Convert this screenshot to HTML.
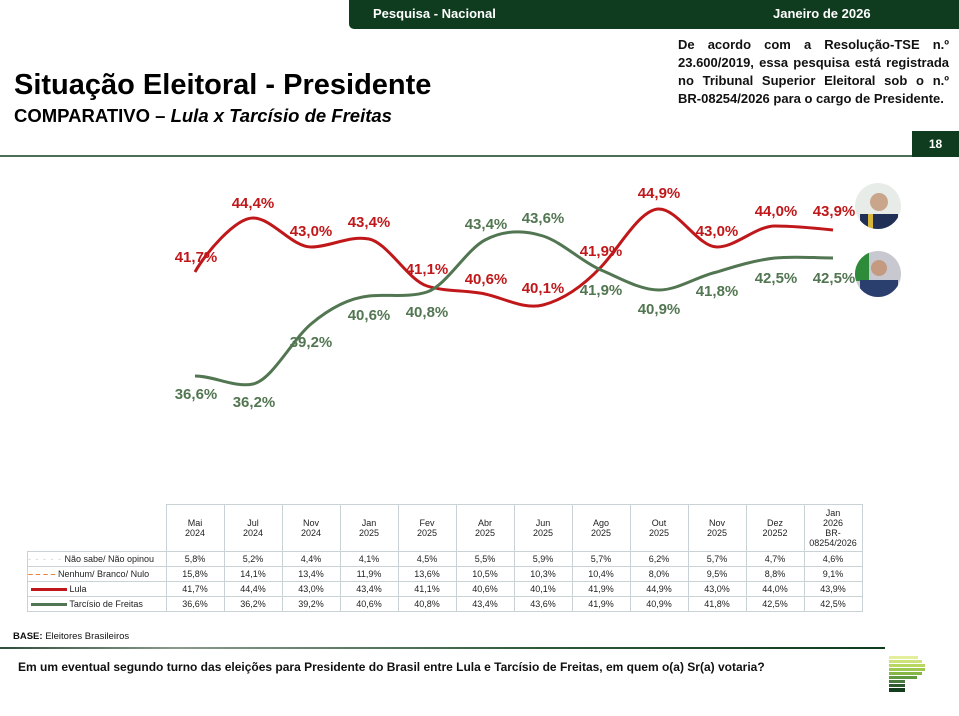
<!DOCTYPE html>
<html><head><meta charset="utf-8"><style>
body{margin:0;width:959px;height:716px;background:#fff;position:relative;overflow:hidden;font-family:"Liberation Sans",Arial,sans-serif;}
.abs{position:absolute}
table{border-collapse:collapse;position:absolute;left:27px;top:504px;font-size:9px;color:#222}
td{border:1px solid #c9d3d6;text-align:center;padding:0;height:14px;width:57px}
.j{text-align:justify;text-align-last:justify;white-space:nowrap}
</style></head><body>
<div class="abs" style="left:349px;top:0;width:610px;height:29px;background:#0f3b1e;border-bottom-left-radius:5px"></div>
<div class="abs" style="left:373px;top:6px;color:#fff;font-weight:bold;font-size:13px">Pesquisa - Nacional</div>
<div class="abs" style="left:773px;top:6px;color:#fff;font-weight:bold;font-size:13px">Janeiro de 2026</div>
<div class="abs" style="left:678px;top:36px;width:271px;font-weight:bold;font-size:13px;line-height:18px;color:#111">
<div class="j">De acordo com a Resolução-TSE n.º</div>
<div class="j">23.600/2019, essa pesquisa está registrada</div>
<div class="j">no Tribunal Superior Eleitoral sob o n.º</div>
<div>BR-08254/2026 para o cargo de Presidente.</div>
</div>
<div class="abs" style="left:14px;top:69px;font-weight:bold;font-size:29px;color:#000">Situação Eleitoral - Presidente</div>
<div class="abs" style="left:14px;top:105px;font-weight:bold;font-size:18.5px;color:#000">COMPARATIVO – <i>Lula x Tarcísio de Freitas</i></div>
<div class="abs" style="left:0;top:155px;width:959px;height:2px;background:#4c6e58"></div>
<div class="abs" style="left:912px;top:131px;width:47px;height:26px;background:#0f3b1e;color:#fff;font-weight:bold;font-size:12px;text-align:center;line-height:27px">18</div>

<svg class="abs" style="left:0;top:0" width="959" height="500">
<defs>
<clipPath id="c1"><circle cx="878" cy="206" r="23"/></clipPath>
<clipPath id="c2"><circle cx="878" cy="274" r="23"/></clipPath>
</defs>
<path d="M195,272 C205,254 235,218 253,218 C272,218 292,247 311,247 C330,247 350,235 369,239 C388,243 408,280 427,286 C446,292 466,290 485,294 C504,298 524,310 543,305 C562,300 582,287 601,267 C620,247 640,209 659,209 C678,209 698,247 717,247 C736,247 756,226 775,226 C794,226 814,228 833,230" fill="none" stroke="#c0181a" stroke-width="3"/>
<path d="M195,376 C214,376 235,388 253,384 C272,380 292,340 311,324 C330,308 350,298 369,296 C388,294 408,298 427,292 C446,286 466,250 485,240 C504,230 524,230 543,236 C562,242 582,262 601,270 C620,278 640,290 659,290 C678,290 698,276 717,272 C736,266 756,260 775,258 C794,256 814,258 833,258" fill="none" stroke="#527651" stroke-width="3"/>
<g font-weight="bold" font-size="15" fill="#c0181a" text-anchor="middle">
<text x="196" y="262">41,7%</text><text x="253" y="208">44,4%</text><text x="311" y="236">43,0%</text><text x="369" y="227">43,4%</text><text x="427" y="274">41,1%</text><text x="486" y="284">40,6%</text><text x="543" y="293">40,1%</text><text x="601" y="256">41,9%</text><text x="659" y="198">44,9%</text><text x="717" y="236">43,0%</text><text x="776" y="216">44,0%</text><text x="834" y="216">43,9%</text>
</g>
<g font-weight="bold" font-size="15" fill="#527651" text-anchor="middle">
<text x="196" y="399">36,6%</text><text x="254" y="407">36,2%</text><text x="311" y="347">39,2%</text><text x="369" y="320">40,6%</text><text x="427" y="317">40,8%</text><text x="486" y="229">43,4%</text><text x="543" y="223">43,6%</text><text x="601" y="295">41,9%</text><text x="659" y="314">40,9%</text><text x="717" y="296">41,8%</text><text x="776" y="283">42,5%</text><text x="834" y="283">42,5%</text>
</g>
<g clip-path="url(#c1)"><rect x="855" y="183" width="46" height="46" fill="#e8ece8"/><circle cx="879" cy="202" r="9" fill="#c9a58c"/><rect x="860" y="214" width="38" height="16" fill="#1f2f55"/><rect x="868" y="214" width="5" height="16" fill="#d8b63a"/></g>
<g clip-path="url(#c2)"><rect x="855" y="251" width="46" height="46" fill="#c8c8d0"/><rect x="855" y="251" width="14" height="30" fill="#2e8b3a"/><circle cx="879" cy="268" r="8" fill="#c49a80"/><rect x="860" y="280" width="38" height="18" fill="#2b3f6e"/></g>
</svg>

<table>
<tr><td style="border:none;width:138px;height:46px"></td><td style="height:46px">Mai<br>2024</td><td>Jul<br>2024</td><td>Nov<br>2024</td><td>Jan<br>2025</td><td>Fev<br>2025</td><td>Abr<br>2025</td><td>Jun<br>2025</td><td>Ago<br>2025</td><td>Out<br>2025</td><td>Nov<br>2025</td><td>Dez<br>20252</td><td>Jan<br>2026<br>BR-<br>08254/2026</td></tr>
<tr><td style="text-align:left"><span style="color:#c8d2d4;letter-spacing:1px">- - - - -</span> Não sabe/ Não opinou</td><td>5,8%</td><td>5,2%</td><td>4,4%</td><td>4,1%</td><td>4,5%</td><td>5,5%</td><td>5,9%</td><td>5,7%</td><td>6,2%</td><td>5,7%</td><td>4,7%</td><td>4,6%</td></tr>
<tr><td style="text-align:left"><span style="color:#e07a30;font-weight:bold">– – – –</span> Nenhum/ Branco/ Nulo</td><td>15,8%</td><td>14,1%</td><td>13,4%</td><td>11,9%</td><td>13,6%</td><td>10,5%</td><td>10,3%</td><td>10,4%</td><td>8,0%</td><td>9,5%</td><td>8,8%</td><td>9,1%</td></tr>
<tr><td style="text-align:left"><span style="display:inline-block;width:36px;height:3px;background:#c0181a;vertical-align:middle;margin-left:3px"></span> Lula</td><td>41,7%</td><td>44,4%</td><td>43,0%</td><td>43,4%</td><td>41,1%</td><td>40,6%</td><td>40,1%</td><td>41,9%</td><td>44,9%</td><td>43,0%</td><td>44,0%</td><td>43,9%</td></tr>
<tr><td style="text-align:left"><span style="display:inline-block;width:36px;height:3px;background:#527651;vertical-align:middle;margin-left:3px"></span> Tarcísio de Freitas</td><td>36,6%</td><td>36,2%</td><td>39,2%</td><td>40,6%</td><td>40,8%</td><td>43,4%</td><td>43,6%</td><td>41,9%</td><td>40,9%</td><td>41,8%</td><td>42,5%</td><td>42,5%</td></tr>
</table>

<div class="abs" style="left:13px;top:631px;font-size:9.5px;color:#111"><b>BASE:</b> Eleitores Brasileiros</div>
<div class="abs" style="left:0;top:647px;width:885px;height:2px;background:linear-gradient(90deg,#2f4f3a,#8a9a8e 20%,#2f5a3a 60%,#0f3b1e)"></div>
<div class="abs" style="left:18px;top:660px;font-weight:bold;font-size:12px;color:#111">Em um eventual segundo turno das eleições para Presidente do Brasil entre Lula e Tarcísio de Freitas, em quem o(a) Sr(a) votaria?</div>
<div class="abs" style="left:889px;top:656px">
<div style="width:29px;height:3px;background:#e4ef9c;margin-bottom:1px"></div>
<div style="width:33px;height:3px;background:#cde27a;margin-bottom:1px"></div>
<div style="width:36px;height:3px;background:#b8d660;margin-bottom:1px"></div>
<div style="width:36px;height:3px;background:#9fc84f;margin-bottom:1px"></div>
<div style="width:33px;height:3px;background:#86b646;margin-bottom:1px"></div>
<div style="width:28px;height:3px;background:#5f9a3f;margin-bottom:1px"></div>
<div style="width:16px;height:3px;background:#4a7a40;margin-bottom:1px"></div>
<div style="width:16px;height:3px;background:#2f5a32;margin-bottom:1px"></div>
<div style="width:16px;height:4px;background:#143d1e"></div>
</div>
</body></html>
